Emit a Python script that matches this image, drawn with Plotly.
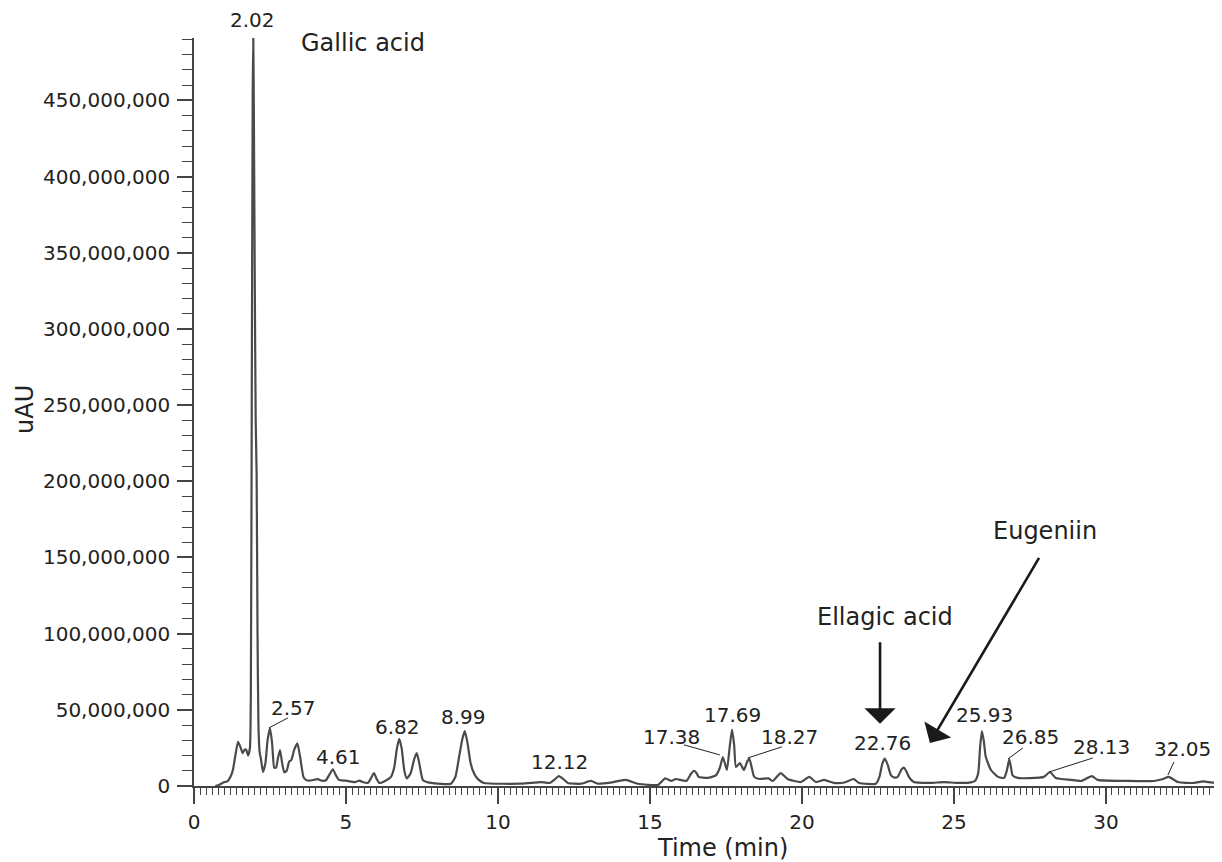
import plotly.graph_objects as go

# ---------------- data ----------------
time_min = [0.7, 0.8, 1.0, 1.1, 1.2, 1.28, 1.36, 1.45, 1.52, 1.6, 1.67, 1.72, 1.78, 1.84,
            1.87, 1.9, 1.93, 1.95, 1.97, 2.0, 2.03, 2.06, 2.09, 2.12, 2.16, 2.2, 2.27,
            2.35, 2.42, 2.5, 2.57, 2.64, 2.7, 2.76, 2.83, 2.9, 2.97, 3.05, 3.13, 3.2, 3.3,
            3.4, 3.5, 3.6, 3.68, 3.8, 4.07, 4.2, 4.34, 4.47, 4.57, 4.67, 4.77, 5.0, 5.3,
            5.45, 5.55, 5.72, 5.82, 5.92, 6.0, 6.1, 6.3, 6.48, 6.59, 6.67, 6.75, 6.83,
            6.92, 7.0, 7.12, 7.25, 7.33, 7.42, 7.53, 7.8, 8.45, 8.6, 8.72, 8.83, 8.91, 9.0,
            9.1, 9.22, 9.34, 9.54, 10.75, 11.1, 11.4, 11.7, 11.85, 12.0, 12.15, 12.3,
            12.73, 13.06, 13.3, 13.7, 14.2, 14.6, 15.26, 15.5, 15.7, 15.85, 16.2, 16.35,
            16.45, 16.55, 16.6, 16.9, 17.17, 17.3, 17.4, 17.53, 17.62, 17.7, 17.77, 17.83,
            17.96, 18.09, 18.2, 18.27, 18.35, 18.43, 18.6, 18.9, 19.04, 19.3, 19.53, 19.97,
            20.24, 20.46, 20.73, 21.05, 21.4, 21.7, 21.88, 22.43, 22.55, 22.65, 22.73,
            22.82, 22.93, 23.05, 23.15, 23.28, 23.36, 23.45, 23.52, 23.68, 24.24, 24.67,
            25.13, 25.56, 25.7, 25.8, 25.86, 25.92, 25.98, 26.05, 26.22, 26.45, 26.65,
            26.74, 26.82, 26.88, 26.93, 27.1, 27.5, 27.96, 28.16, 28.35, 28.85, 29.18,
            29.54, 29.73, 30.72, 31.58, 31.88, 32.07, 32.37, 32.9, 33.2, 33.5, 33.85]

signal_millions = [0, 0.5, 2.6, 3, 6, 10.5, 20, 29, 26, 21.6, 24, 23.6, 20, 25,
                   60, 250, 450, 493, 440, 330, 240, 205, 100, 40, 22, 18, 9.2,
                   15, 30, 38, 28, 12, 12, 18, 23.6, 15, 9, 10, 16, 17, 24,
                   28, 18, 6, 4, 3.5, 4.5, 3.5, 3.8, 8, 11, 7, 4, 3.5, 2.6,
                   3.5, 2.6, 2, 5, 8.5, 5, 2, 3.5, 6, 12.5, 24, 31, 25,
                   10, 5, 8, 18, 21.6, 14, 4, 2, 1.5, 6, 19, 31, 36, 28,
                   15, 8, 4.5, 2, 1.5, 2, 2.6, 2, 4, 6.5, 4.5, 2,
                   1.5, 3.3, 1.5, 2.2, 4, 1.5, 0.7, 5, 3.3, 4.6, 3.3, 8,
                   10, 8, 6, 5.3, 7, 12, 19, 10.5, 25, 37, 27, 12.5,
                   15, 10.5, 16, 18, 12, 6, 4.6, 5, 3.3, 8.5, 4.6, 2.6,
                   6, 2.6, 4, 2, 2.3, 4.6, 2, 1.5, 6, 15, 18,
                   14, 7, 5.5, 6, 11, 12, 9, 6, 2.6, 2, 2.6,
                   2, 2.4, 3.5, 8.5, 25, 36, 30, 19, 10.5, 6, 5.3,
                   10, 17.5, 12, 7, 5.3, 5.2, 6, 9.2, 5.3, 4, 3.3,
                   6.5, 4, 3.3, 3.3, 4.6, 6, 2.6, 2, 3, 2.2, 2]

# peak labels: text, label position (min, millions), leader-line end on peak (or None)
peak_labels = ["2.02", "2.57", "4.61", "6.82", "8.99", "12.12", "17.38", "17.69",
               "18.27", "22.76", "25.93", "26.85", "28.13", "32.05"]
label_x = [1.91, 3.26, 4.74, 6.71, 8.85, 12.04, 15.72, 17.70, 19.60, 22.66, 25.99, 27.53, 29.84, 32.53]
label_y = [502.6, 51.3, 19.1, 38.8, 45.4, 15.8, 32.2, 46.7, 32.2, 28.3, 46.7, 32.2, 25.7, 24.3]
leader_x0 = [None, 3.09, None, None, None, None, 16.12, None, 19.34, None, None, 27.27, 29.57, 32.24]
leader_y0 = [None, 44.7, None, None, None, None, 27.0, None, 25.7, None, None, 25.0, 18.4, 15.8]
leader_x1 = [None, 2.47, None, None, None, None, 17.30, None, 18.22, None, None, 26.78, 28.13, 32.04]
leader_y1 = [None, 38.2, None, None, None, None, 20.4, None, 18.4, None, None, 17.8, 9.2, 7.2]

compound_names = ["Gallic acid", "Ellagic acid", "Eugeniin"]
compound_x = [5.56, 22.73, 27.99]
compound_y = [487.5, 111.2, 167.1]
arrow_tail_x = [None, 22.57, 27.83]
arrow_tail_y = [None, 95.4, 150.7]
arrow_tip_x = [None, 22.57, 24.21]
arrow_tip_y = [None, 40.8, 28.3]

SCALE = 1e6
X_RANGE = [0, 33.82]
Y_MAX = 491
Y_RANGE = [0, Y_MAX * SCALE]

# ---------------- figure ----------------
AX = "#444444"
TXT = "#222222"
FONT = "DejaVu Sans"

fig = go.Figure()
fig.add_trace(go.Scatter(
    x=time_min, y=[v * SCALE for v in signal_millions],
    mode="lines", line=dict(color="#4a4a4a", width=2.2, shape="spline", smoothing=0.5),
    hoverinfo="skip", showlegend=False))

annotations = []
shapes = []
for i, t in enumerate(peak_labels):
    if label_y[i] > Y_MAX:
        # label above the plotting area: place in paper coordinates
        annotations.append(dict(x=label_x[i], y=label_y[i] / Y_MAX, xref="x", yref="paper",
                                text=t, showarrow=False, xanchor="center", yanchor="middle",
                                font=dict(family=FONT, size=20, color=TXT)))
    else:
        annotations.append(dict(x=label_x[i], y=label_y[i] * SCALE, xref="x", yref="y",
                                text=t, showarrow=False, xanchor="center", yanchor="middle",
                                font=dict(family=FONT, size=20, color=TXT)))
    if leader_x0[i] is not None:
        shapes.append(dict(type="line", xref="x", yref="y",
                           x0=leader_x0[i], y0=leader_y0[i] * SCALE,
                           x1=leader_x1[i], y1=leader_y1[i] * SCALE,
                           line=dict(color=TXT, width=1)))

for i, name in enumerate(compound_names):
    annotations.append(dict(x=compound_x[i], y=compound_y[i] * SCALE, xref="x", yref="y",
                            text=name, showarrow=False, xanchor="center", yanchor="middle",
                            font=dict(family=FONT, size=24, color=TXT)))
    if arrow_tail_x[i] is not None:
        annotations.append(dict(x=arrow_tip_x[i], y=arrow_tip_y[i] * SCALE, xref="x", yref="y",
                                ax=arrow_tail_x[i], ay=arrow_tail_y[i] * SCALE,
                                axref="x", ayref="y", text="", showarrow=True,
                                arrowhead=1, arrowsize=2.0, arrowwidth=2.6, arrowcolor="#1a1a1a"))

# axis titles placed as annotations
annotations.append(dict(x=0.5, y=0, xref="paper", yref="paper", text="Time (min)",
                        showarrow=False, xanchor="center", yanchor="middle", xshift=14, yshift=-62,
                        font=dict(family=FONT, size=24, color=TXT)))
annotations.append(dict(x=0, y=0.5, xref="paper", yref="paper", text="uAU", textangle=-90,
                        showarrow=False, xanchor="center", yanchor="middle", xshift=-169, yshift=2,
                        font=dict(family=FONT, size=24, color=TXT)))

fig.update_layout(
    width=1214, height=854,
    margin=dict(l=186, r=0, t=30, b=76),
    plot_bgcolor="white", paper_bgcolor="white",
    font=dict(family=FONT, size=20, color=TXT),
    showlegend=False,
    annotations=annotations, shapes=shapes,
    xaxis=dict(range=X_RANGE, showline=True, linecolor=AX, linewidth=1.6,
               ticks="outside", tick0=0, dtick=5, ticklen=16, tickwidth=1.6, tickcolor=AX,
               showgrid=False, zeroline=False, ticklabelstandoff=1,
               tickfont=dict(family=FONT, size=20, color=TXT),
               minor=dict(dtick=0.2, tick0=0, ticks="outside", ticklen=7, tickwidth=1,
                          tickcolor=AX, showgrid=False)),
    xaxis2=dict(range=X_RANGE, overlaying="x", matches="x", anchor="y", side="bottom",
                showline=False, ticks="outside", tick0=0, dtick=1, ticklen=11, tickwidth=1.2,
                tickcolor=AX, showticklabels=False, showgrid=False, zeroline=False),
    yaxis=dict(range=Y_RANGE, showline=True, linecolor=AX, linewidth=1.6,
               ticks="outside", tick0=0, dtick=50e6, ticklen=15, tickwidth=1.6, tickcolor=AX,
               tickformat=",.0f", showgrid=False, zeroline=False, ticklabelstandoff=3,
               tickfont=dict(family=FONT, size=20, color=TXT),
               minor=dict(dtick=10e6, tick0=0, ticks="outside", ticklen=10, tickwidth=1,
                          tickcolor=AX, showgrid=False)),
)

fig.write_html("out.html")
